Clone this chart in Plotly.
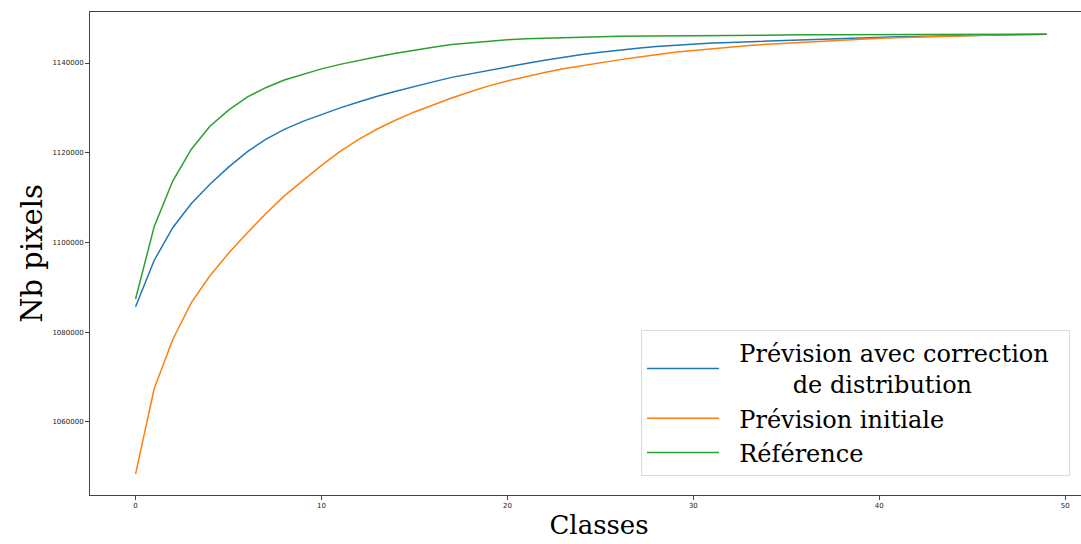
import plotly.graph_objects as go

classes = list(range(50))

prevision_corrigee = [
    1085700, 1096000, 1103300, 1108700, 1113000, 1116800, 1120200, 1123000, 1125200, 1127000,
    1128500, 1130000, 1131300, 1132600, 1133700, 1134800, 1135800, 1136800, 1137600, 1138400,
    1139100, 1139900, 1140600, 1141300, 1141900, 1142400, 1142900, 1143300, 1143700, 1144000,
    1144250, 1144450, 1144600, 1144750, 1144900, 1145050, 1145200, 1145350, 1145480, 1145600,
    1145720, 1145830, 1145930, 1146020, 1146100, 1146180, 1146250, 1146310, 1146360, 1146400,
]

prevision_initiale = [
    1048400, 1067400, 1078400, 1086600, 1092600, 1097600, 1102100, 1106400, 1110400, 1113900,
    1117200, 1120300, 1123000, 1125300, 1127300, 1129100, 1130700, 1132200, 1133600, 1134900,
    1136000, 1137000, 1137900, 1138700, 1139400, 1140100, 1140700, 1141300, 1141900, 1142400,
    1142800, 1143200, 1143550, 1143900, 1144200, 1144450, 1144700, 1144900, 1145100, 1145300,
    1145500, 1145650, 1145800, 1145950, 1146080, 1146180, 1146260, 1146320, 1146370, 1146400,
]

reference = [
    1087400, 1103500, 1113700, 1120800, 1125900, 1129500, 1132400, 1134500, 1136200, 1137500,
    1138700, 1139700, 1140600, 1141400, 1142200, 1142900, 1143500, 1144100, 1144500, 1144900,
    1145200, 1145400, 1145550, 1145700, 1145800, 1145880, 1145950, 1146000, 1146050, 1146090,
    1146120, 1146150, 1146180, 1146210, 1146240, 1146260, 1146280, 1146300, 1146310, 1146320,
    1146330, 1146340, 1146350, 1146360, 1146370, 1146375, 1146380, 1146385, 1146390, 1146400,
]

NB = "\u00a0"
series_names = [
    NB * 2 + "Prévision avec correction" + NB * 2 + "<br>" + NB * 9 + "de distribution",
    NB * 2 + "Prévision initiale",
    NB * 2 + "Référence",
]
series_colors = ["#1f77b4", "#ff7f0e", "#2ca02c"]

x_ticks = [0, 10, 20, 30, 40, 50]
y_ticks = [1060000, 1080000, 1100000, 1120000, 1140000]

fig = go.Figure()
for name, vals, col in zip(series_names, [prevision_corrigee, prevision_initiale, reference], series_colors):
    fig.add_trace(go.Scatter(x=classes, y=vals, mode="lines", name=name,
                             line=dict(color=col, width=1.5)))

axis_common = dict(
    showline=True, linecolor="#444", linewidth=1, mirror=True,
    ticks="outside", ticklen=4, tickcolor="#444", tickwidth=1,
    showgrid=False, zeroline=False,
    tickfont=dict(family="DejaVu Sans", size=7, color="#222"),
)

fig.update_layout(
    width=1110, height=544,
    margin=dict(l=90, r=2, t=12, b=49),
    paper_bgcolor="white", plot_bgcolor="white",
    xaxis=dict(range=[-2.45, 52.3], tickvals=x_ticks,
               title=dict(text="Classes", font=dict(family="DejaVu Serif", size=26, color="black"), standoff=6),
               **axis_common),
    yaxis=dict(range=[1043730, 1151370], tickvals=y_ticks, tickformat="d",
               title=dict(text="Nb pixels", font=dict(family="DejaVu Serif", size=29, color="black"), standoff=1),
               **axis_common),
    legend=dict(x=0.9627, y=0.04, xanchor="right", yanchor="bottom",
                font=dict(family="DejaVu Serif", size=24, color="black"),
                bgcolor="white", bordercolor="#dcdcdc", borderwidth=1,
                itemwidth=72),
    showlegend=True,
)

fig.write_html(
    "out.html",
    config={"displayModeBar": False},
    post_script="document.body.style.margin='0px';document.body.style.overflow='hidden';",
)
